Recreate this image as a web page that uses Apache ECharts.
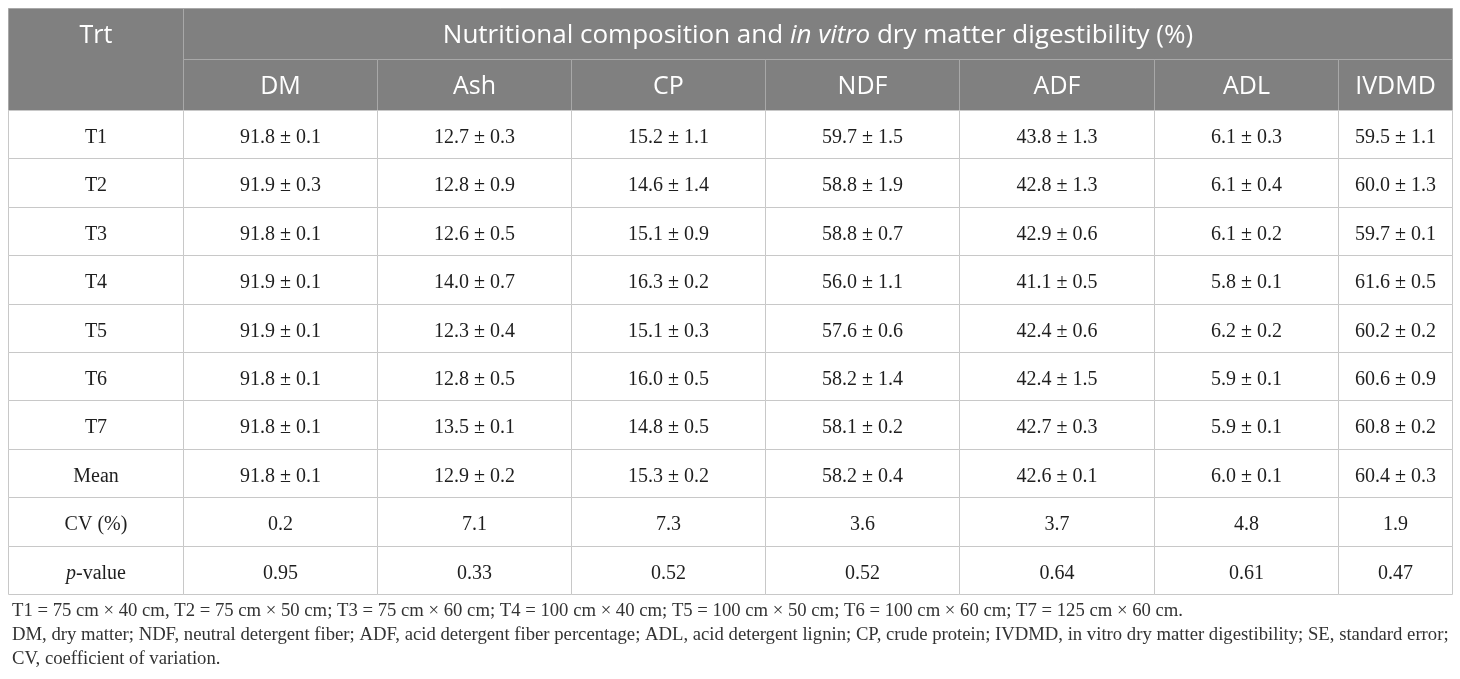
<!DOCTYPE html>
<html>
<head>
<meta charset="utf-8">
<script src="https://cdn.jsdelivr.net/npm/echarts@6/dist/echarts.min.js"></script>
<style>
html, body { margin: 0; padding: 0; background: #fff; }
#main { width: 1460px; height: 679px; }
</style>
</head>
<body>
<div id="main"></div>
<script>
// table content
var columns = ['DM', 'Ash', 'CP', 'NDF', 'ADF', 'ADL', 'IVDMD'];
var treatments = ['T1', 'T2', 'T3', 'T4', 'T5', 'T6', 'T7', 'Mean'];
var rowLabels = ['T1', 'T2', 'T3', 'T4', 'T5', 'T6', 'T7', 'Mean', 'CV (%)', '{i|p}-value'];

// means (T1..T7, Mean) per column
var dmMean = [91.8, 91.9, 91.8, 91.9, 91.9, 91.8, 91.8, 91.8];
var ashMean = [12.7, 12.8, 12.6, 14.0, 12.3, 12.8, 13.5, 12.9];
var cpMean = [15.2, 14.6, 15.1, 16.3, 15.1, 16.0, 14.8, 15.3];
var ndfMean = [59.7, 58.8, 58.8, 56.0, 57.6, 58.2, 58.1, 58.2];
var adfMean = [43.8, 42.8, 42.9, 41.1, 42.4, 42.4, 42.7, 42.6];
var adlMean = [6.1, 6.1, 6.1, 5.8, 6.2, 5.9, 5.9, 6.0];
var ivdmdMean = [59.5, 60.0, 59.7, 61.6, 60.2, 60.6, 60.8, 60.4];

// standard errors
var dmSE = [0.1, 0.3, 0.1, 0.1, 0.1, 0.1, 0.1, 0.1];
var ashSE = [0.3, 0.9, 0.5, 0.7, 0.4, 0.5, 0.1, 0.2];
var cpSE = [1.1, 1.4, 0.9, 0.2, 0.3, 0.5, 0.5, 0.2];
var ndfSE = [1.5, 1.9, 0.7, 1.1, 0.6, 1.4, 0.2, 0.4];
var adfSE = [1.3, 1.3, 0.6, 0.5, 0.6, 1.5, 0.3, 0.1];
var adlSE = [0.3, 0.4, 0.2, 0.1, 0.2, 0.1, 0.1, 0.1];
var ivdmdSE = [1.1, 1.3, 0.1, 0.5, 0.2, 0.9, 0.2, 0.3];

var cvValues = [0.2, 7.1, 7.3, 3.6, 3.7, 4.8, 1.9];
var pValues = [0.95, 0.33, 0.52, 0.52, 0.64, 0.61, 0.47];

var footnotes = [
    'T1 = 75 cm \u00d7 40 cm, T2 = 75 cm \u00d7 50 cm; T3 = 75 cm \u00d7 60 cm; T4 = 100 cm \u00d7 40 cm; T5 = 100 cm \u00d7 50 cm; T6 = 100 cm \u00d7 60 cm; T7 = 125 cm \u00d7 60 cm.',
    'DM, dry matter; NDF, neutral detergent fiber; ADF, acid detergent fiber percentage; ADL, acid detergent lignin; CP, crude protein; IVDMD, in vitro dry matter digestibility; SE, standard error;',
    'CV, coefficient of variation.'
];

// layout
var colWidths = [175, 194, 194, 194, 194, 195, 184, 114];
var colEdges = [0];
colWidths.forEach(function (w, i) { colEdges.push(colEdges[i] + w); });
var tableWidth = colEdges[colEdges.length - 1];

var means = [dmMean, ashMean, cpMean, ndfMean, adfMean, adlMean, ivdmdMean];
var ses = [dmSE, ashSE, cpSE, ndfSE, adfSE, adlSE, ivdmdSE];

// header cells: [x0, row, x1, rowSpan]
var headerData = [], headerText = [], headerSize = [];
headerData.push([colEdges[0], 0, colEdges[1], 2]); headerText.push('Trt'); headerSize.push(25);
headerData.push([colEdges[1], 0, colEdges[8], 1]);
headerText.push('Nutritional composition and {i|in vitro} dry matter digestibility (%)');
headerSize.push(26);
columns.forEach(function (c, i) {
    headerData.push([colEdges[i + 1], 1, colEdges[i + 2], 1]);
    headerText.push(c);
    headerSize.push(25);
});

// body cells
var bodyData = [], bodyText = [], bodySize = [];
rowLabels.forEach(function (r, ri) {
    bodyData.push([colEdges[0], ri, colEdges[1], 1]);
    bodyText.push(r);
    bodySize.push(20);
    for (var ci = 0; ci < columns.length; ci++) {
        var t;
        if (ri < treatments.length) {
            t = means[ci][ri].toFixed(1) + ' \u00b1 ' + ses[ci][ri].toFixed(1);
        } else if (ri === treatments.length) {
            t = cvValues[ci].toFixed(1);
        } else {
            t = pValues[ci].toFixed(2);
        }
        bodyData.push([colEdges[ci + 1], ri, colEdges[ci + 2], 1]);
        bodyText.push(t);
        bodySize.push(20);
    }
});

function makeRender(texts, sizes, isHeader) {
    return function (params, api) {
        var p0 = api.coord([api.value(0), api.value(1)]);
        var p1 = api.coord([api.value(2), api.value(1)]);
        var h = api.size([0, 1])[1];
        var span = api.value(3);
        var x = Math.round(p0[0]) + 0.5;
        var y = Math.round(p0[1] - h / 2) + 0.5;
        var w = Math.round(p1[0]) - Math.round(p0[0]);
        var hh = Math.round(p0[1] - h / 2 + h * span) - Math.round(p0[1] - h / 2);
        var family = isHeader ? 'Open Sans' : 'Liberation Serif';
        var color = isHeader ? '#ffffff' : '#1e1e1e';
        var fs = sizes[params.dataIndex];
        return {
            type: 'group',
            children: [{
                type: 'rect',
                shape: {x: x, y: y, width: w, height: hh},
                style: {
                    fill: isHeader ? '#808080' : '#ffffff',
                    stroke: isHeader ? '#a8a8a8' : '#c8c8c8',
                    lineWidth: 1
                }
            }, {
                type: 'text',
                style: {
                    text: texts[params.dataIndex],
                    x: x + w / 2,
                    // text sits in the first row band, even for merged cells
                    y: y + h / 2 + (isHeader ? 2 : 3),
                    align: 'center',
                    verticalAlign: 'middle',
                    fill: color,
                    fontFamily: family,
                    fontSize: fs,
                    rich: {
                        i: {fontStyle: 'italic', fontFamily: family, fontSize: fs, fill: color}
                    }
                }
            }]
        };
    };
}

var chart = echarts.init(document.getElementById('main'));
var option = {
    backgroundColor: '#ffffff',
    animation: false,
    title: {
        text: footnotes.join('\n'),
        left: 7,
        top: 594,
        textStyle: {
            fontFamily: 'Liberation Serif',
            fontSize: 18.7,
            fontWeight: 'normal',
            color: '#333333',
            lineHeight: 24
        }
    },
    grid: [
        {left: 8, top: 8, width: tableWidth, height: 102},
        {left: 8, top: 110, width: tableWidth, height: 484}
    ],
    xAxis: [
        {type: 'value', gridIndex: 0, min: 0, max: tableWidth, show: false},
        {type: 'value', gridIndex: 1, min: 0, max: tableWidth, show: false}
    ],
    yAxis: [
        {type: 'category', gridIndex: 0, data: ['group', 'variable'], inverse: true, show: false},
        {type: 'category', gridIndex: 1, data: rowLabels, inverse: true, show: false}
    ],
    series: [
        {
            type: 'custom',
            xAxisIndex: 0,
            yAxisIndex: 0,
            renderItem: makeRender(headerText, headerSize, true),
            data: headerData
        },
        {
            type: 'custom',
            xAxisIndex: 1,
            yAxisIndex: 1,
            renderItem: makeRender(bodyText, bodySize, false),
            data: bodyData
        }
    ]
};
chart.setOption(option);
</script>
</body>
</html>
